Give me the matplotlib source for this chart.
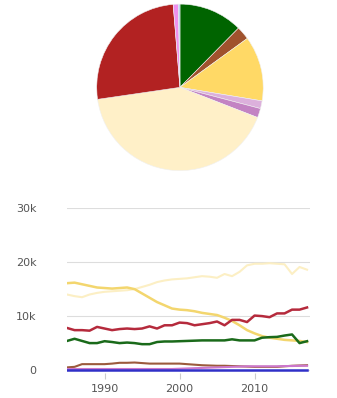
import numpy as np
import matplotlib
matplotlib.use('Agg')
import matplotlib.pyplot as plt

# pie shares (clockwise from 12 o'clock)
pie_vals = [12.4, 2.6, 12.6, 1.5, 1.8, 41.8, 26.0, 1.0, 0.3]
pie_colors = ['#006400', '#a0522d', '#ffd966', '#dcb0dc', '#c383c3',
              '#fff0c8', '#b22222', '#ee90ee', '#a0c8f0']

years = list(range(1985, 2018))
cream = [14.0, 13.7, 13.5, 14.0, 14.3, 14.5, 14.6, 14.7, 14.8, 15.0, 15.4, 15.8, 16.3,
         16.6, 16.8, 16.9, 17.0, 17.2, 17.4, 17.3, 17.1, 17.8, 17.4, 18.2, 19.4, 19.7,
         19.7, 19.8, 19.7, 19.6, 17.8, 19.1, 18.6]
gold = [16.1, 16.2, 15.9, 15.6, 15.3, 15.2, 15.1, 15.2, 15.3, 15.0, 14.2, 13.4, 12.6,
        12.0, 11.4, 11.2, 11.1, 10.9, 10.6, 10.4, 10.2, 9.7, 9.1, 8.3, 7.4, 6.8,
        6.3, 6.0, 5.8, 5.6, 5.5, 5.4, 5.2]
red = [7.8, 7.4, 7.4, 7.3, 8.0, 7.7, 7.4, 7.6, 7.7, 7.6, 7.7, 8.1, 7.7, 8.3, 8.3, 8.8,
       8.7, 8.3, 8.5, 8.7, 9.0, 8.3, 9.3, 9.3, 8.9, 10.1, 10.0, 9.8, 10.5, 10.5, 11.2,
       11.2, 11.6]
green = [5.4, 5.8, 5.4, 5.0, 5.0, 5.35, 5.2, 5.0, 5.1, 5.0, 4.8, 4.8, 5.2, 5.3, 5.3, 5.35,
         5.4, 5.45, 5.5, 5.5, 5.5, 5.5, 5.7, 5.5, 5.5, 5.5, 6.0, 6.1, 6.15, 6.4, 6.6,
         5.0, 5.35]
brown = [0.5, 0.6, 1.1, 1.1, 1.1, 1.1, 1.2, 1.35, 1.35, 1.4, 1.3, 1.2, 1.2, 1.2, 1.2, 1.2,
         1.1, 1.0, 0.9, 0.85, 0.8, 0.8, 0.75, 0.7, 0.65, 0.6, 0.6, 0.6, 0.6, 0.7, 0.8,
         0.85, 0.9]
violet = [0.2, 0.2, 0.2, 0.2, 0.2, 0.2, 0.2, 0.2, 0.2, 0.2, 0.2, 0.2, 0.2, 0.2, 0.2, 0.25,
          0.3, 0.35, 0.4, 0.45, 0.5, 0.55, 0.6, 0.65, 0.7, 0.7, 0.7, 0.7, 0.7, 0.75, 0.75,
          0.8, 0.8]
blue = [0.1] * len(years)

fig = plt.figure(figsize=(3.37, 3.98), dpi=100)

ax1 = fig.add_axes([0.282, 0.567, 0.504, 0.427])
ax1.pie(pie_vals, colors=pie_colors, startangle=90, counterclock=False,
        wedgeprops=dict(linewidth=0.4, edgecolor='#f0f0f0'))
ax1.set_xlim(-1.02, 1.02)
ax1.set_ylim(-1.02, 1.02)
ax1.set_aspect('equal')

ax2 = fig.add_axes([0.199, 0.062, 0.721, 0.415])
ax2.plot(years, np.array(cream) * 1000, color='#fcefc4', lw=1.5)
ax2.plot(years, np.array(gold) * 1000, color='#f3d66e', lw=1.8)
ax2.plot(years, np.array(red) * 1000, color='#b52a3c', lw=1.8)
ax2.plot(years, np.array(green) * 1000, color='#1a6a1a', lw=1.8)
ax2.plot(years, np.array(brown) * 1000, color='#9c5a3c', lw=1.5)
ax2.plot(years, np.array(violet) * 1000, color='#cc77cc', lw=1.5)
ax2.plot(years, np.array(blue) * 1000, color='#3030c8', lw=1.8)

ax2.set_xlim(1985, 2017.4)
ax2.set_ylim(-600, 30000)
ax2.set_yticks([0, 10000, 20000, 30000])
ax2.set_yticklabels(['0', '10k', '20k', '30k'])
ax2.set_xticks([1990, 2000, 2010])
ax2.grid(axis='y', color='#dddddd', lw=0.8)
ax2.set_axisbelow(True)
for s in ax2.spines.values():
    s.set_visible(False)
ax2.tick_params(axis='y', length=0, pad=22, colors='#555555', labelsize=8)
ax2.tick_params(axis='x', length=4, color='#cccccc', colors='#555555', labelsize=8)

fig.savefig('out.png', dpi=100)
